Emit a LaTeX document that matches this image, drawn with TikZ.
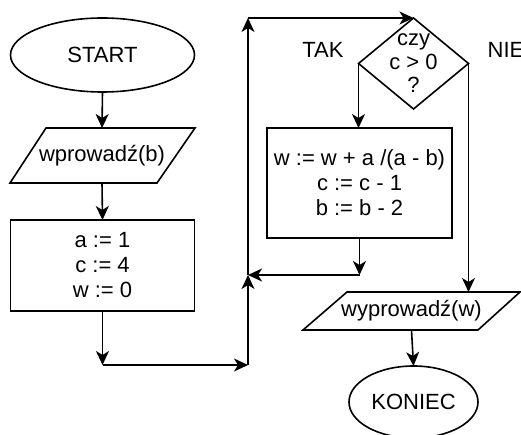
\documentclass[tikz,border=0pt]{standalone}
\usepackage{fontspec}
\setmainfont{Liberation Sans}
\usetikzlibrary{shapes.geometric, arrows.meta}

\begin{document}
\begin{tikzpicture}
	[x=1pt, y=-1pt,																	%work in pixel units, y downwards
	 every node/.style={font=\fontsize{22}{25}\selectfont, inner sep=0pt, outer sep=0pt, align=center},
	 Terminal/.style={ellipse, draw, line width=1.6pt},								%START / KONIEC
	 InOut/.style={rectangle},															%body of input/output, outline drawn below
	 Outline/.style={line width=1.6pt, line join=miter},
	 Process/.style={rectangle, draw, line width=1.6pt},								%assignments
	 Decision/.style={diamond, draw, line width=1.6pt, shape aspect=1.2, inner sep=-9pt},
	 Flow/.style={-{Stealth[length=14pt, width=13pt, inset=4pt]}, line width=1.6pt}
	]
	
	\useasboundingbox (0,0) rectangle (521,435);		%size of the picture
	
	\node[Terminal, minimum width=184, minimum height=74] (start) at (102.5,55) {START};
	\node[InOut, minimum width=145, minimum height=55] (inb) at (102,155.5) {wprowadź(b)};
	\node[Process, minimum width=184, minimum height=91] (init) at (102.5,265.5) {a := 1\\c := 4\\w := 0};
	
	\node[Decision, minimum width=110, minimum height=91, font=\fontsize{22}{23.5}\selectfont] (dec) at (413.5,63.5) {czy\\c > 0\\?};
	\node[Process, minimum width=185, minimum height=110] (body) at (359.5,183) {w := w + a /(a - b)\\c := c - 1\\b := b - 2};
	\node[InOut, minimum width=173, minimum height=38] (outw) at (411.5,311) {wyprowadź(w)};
	\node[Terminal, minimum width=129, minimum height=72] (stop) at (413.5,402) {KONIEC};
	
	%parallelograms round the input and output texts
	\draw[Outline] (10,183) -- (157,183) -- (195,128) -- (46,128) -- cycle;
	\draw[Outline] (303,330) -- (478,330) -- (520,292) -- (347,292) -- cycle;
	
	\node (tak) at (323,50) {TAK};
	\node (nie) at (506,50) {NIE};
	
	\coordinate (turnA) at (102.5,365);		%below the init block
	\coordinate (turnB) at (248,365);
	\coordinate (merge) at (248,275);		%loop joins here
	\coordinate (topL) at (248,18);
	\coordinate (backR) at (359.5,275);		%end of loop body
	
	\draw[Flow] (start.south) -- (inb.north);
	\draw[Flow] (inb.south) -- (init.north);
	\draw[Flow] (init.south) -- (turnA);
	\draw[Flow] (turnA) -- (turnB);
	\draw[Flow] (turnB) -- (merge);
	\draw[Flow] (merge) -- (topL);
	\draw[Flow] (topL) -- (dec.north);
	\draw[Flow] (dec.west) -- (dec.west |- body.north);		%TAK
	\draw[Flow] (body.south) -- (backR);
	\draw[Flow] (backR) -- (merge);
	\draw[Flow] (dec.east) -- (dec.east |- outw.north);		%NIE
	\draw[Flow] (outw.south) -- (stop.north);
	
\end{tikzpicture}
\end{document}
